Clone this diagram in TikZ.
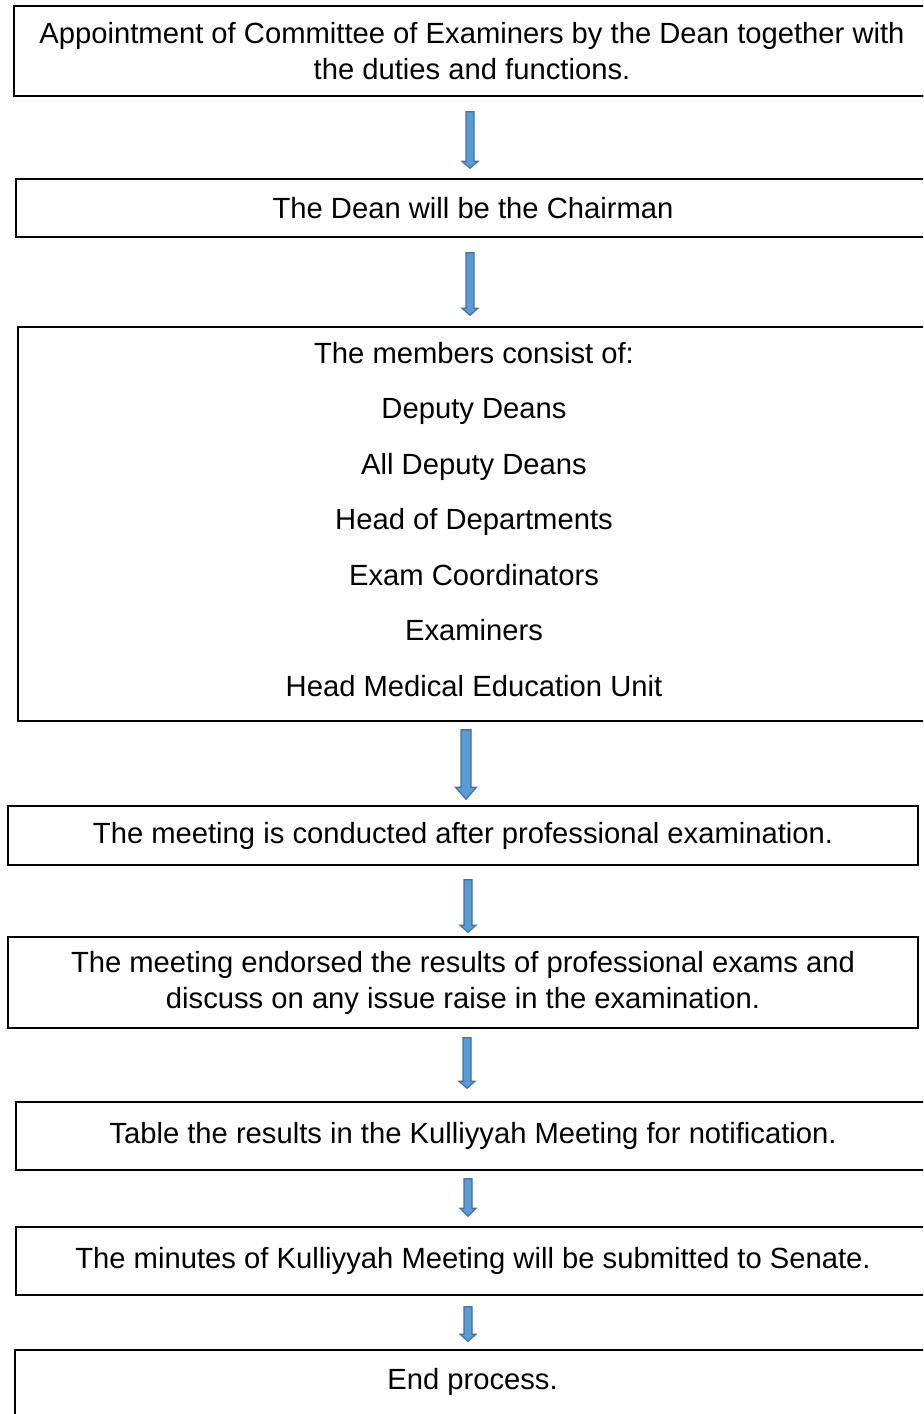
\documentclass[tikz,border=0pt]{standalone}
\usepackage{fontspec}
\setmainfont{Liberation Sans}
\usetikzlibrary{calc}
\definecolor{arrowfill}{HTML}{5B9BD5}
\definecolor{arrowedge}{HTML}{41719C}
\newcommand{\flowarrow}[5]{%
\draw [arrowedge, fill=arrowfill, line width=0.6pt, line join=miter] let \p1=(#1), \p2=(#2) in
(\x1-#3,\y1) -- (\x1+#3,\y1) -- (\x1+#3,\y2+#5) -- (\x1+#4,\y2+#5) -- (\x1,\y2) -- (\x1-#4,\y2+#5) -- (\x1-#3,\y2+#5) -- cycle;}

\begin{document}
\begin{tikzpicture}[x=0.5pt,y=-0.5pt]
\tikzstyle{stepbox}=[draw=black, line width=0.75pt, align=center, inner sep=0pt, font=\fontsize{14.6pt}{18pt}\selectfont]
\useasboundingbox (0,0) rectangle (923,1414);
\clip (0,0) rectangle (923,1414);
\node [stepbox, minimum width=458pt, minimum height=45pt, text depth=-3pt] (appoint) at (472,51) {Appointment of Committee of Examiners by the Dean together with\\the duties and functions.};
\node [stepbox, minimum width=457pt, minimum height=29pt] (chair) at (473,208) {The Dean will be the Chairman};
\node [stepbox, minimum width=456pt, minimum height=197pt, text depth=5pt, font=\fontsize{14.6pt}{27.75pt}\selectfont] (members) at (474,524) {The members consist of:\\Deputy Deans\\All Deputy Deans\\Head of Departments\\Exam Coordinators\\Examiners\\Head Medical Education Unit};
\node [stepbox, minimum width=455pt, minimum height=29.5pt] (meeting) at (463,835.5) {The meeting is conducted after professional examination.};
\node [stepbox, minimum width=455pt, minimum height=45.5pt] (endorse) at (463,982.5) {The meeting endorsed the results of professional exams and\\discuss on any issue raise in the examination.};
\node [stepbox, minimum width=457pt, minimum height=34pt] (table) at (473,1136) {Table the results in the Kulliyyah Meeting for notification.};
\node [stepbox, minimum width=457pt, minimum height=34pt] (minutes) at (473,1261) {The minutes of Kulliyyah Meeting will be submitted to Senate.};
\node [stepbox, minimum width=457.5pt, minimum height=40pt, text depth=11pt] (finish) at (472.5,1390) {End process.};
\flowarrow{[xshift=-1pt,yshift=-7.5pt]appoint.south}{[yshift=5pt]chair.north}{2pt}{4pt}{3.5pt}
\flowarrow{[xshift=-1.5pt,yshift=-7.5pt]chair.south}{[yshift=5.5pt]members.north}{2pt}{4pt}{3.5pt}
\flowarrow{[xshift=-4pt,yshift=-4pt]members.south}{[yshift=3pt]meeting.north}{2.5pt}{5.25pt}{6pt}
\flowarrow{[xshift=2.5pt,yshift=-7pt]meeting.south}{[yshift=2pt]endorse.north}{2pt}{4pt}{3.5pt}
\flowarrow{[xshift=2pt,yshift=-4.5pt]endorse.south}{[yshift=6.5pt]table.north}{2pt}{4pt}{3.5pt}
\flowarrow{[xshift=-2.5pt,yshift=-4pt]table.south}{[yshift=5pt]minutes.north}{2pt}{4pt}{4pt}
\flowarrow{[xshift=-2.5pt,yshift=-5.5pt]minutes.south}{[yshift=4pt]finish.north}{2pt}{4pt}{3.5pt}
\end{tikzpicture}
\end{document}
